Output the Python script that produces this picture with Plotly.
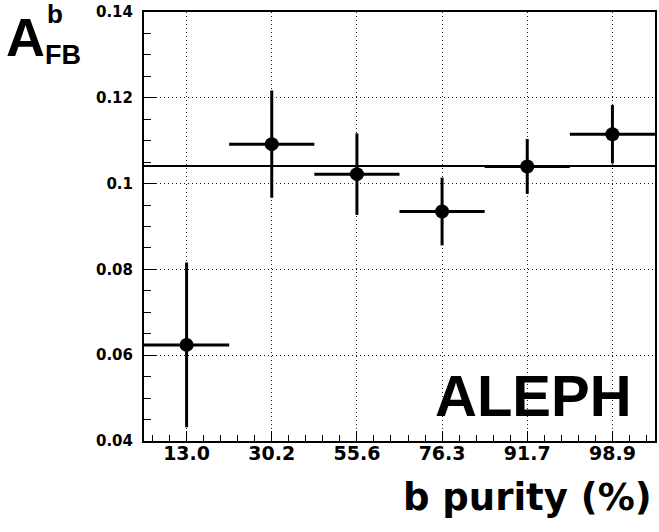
import plotly.graph_objects as go

purity_labels = ["13.0", "30.2", "55.6", "76.3", "91.7", "98.9"]
bin_centers = [0.5, 1.5, 2.5, 3.5, 4.5, 5.5]
afb_values = [0.0624, 0.1092, 0.1022, 0.0935, 0.1040, 0.1115]
afb_errors = [0.0192, 0.0125, 0.0095, 0.0079, 0.0064, 0.0068]
bin_half_width = [0.5, 0.5, 0.5, 0.5, 0.5, 0.5]
afb_average = 0.1041
y_range = [0.04, 0.14]
y_ticks = [0.04, 0.06, 0.08, 0.10, 0.12, 0.14]
y_ticktext = ["0.04", "0.06", "0.08", "0.1", "0.12", "0.14"]

W, H = 659, 532
L, R, T, B = 144, 2, 12, 91
pw, ph = W - L - R, H - T - B

def px(x):
    return (x - L) / pw

def py(y):
    return (H - B - y) / ph

fig = go.Figure()
fig.add_trace(go.Scatter(
    x=bin_centers, y=afb_values, mode="markers",
    marker=dict(size=14, color="black"),
    error_x=dict(type="data", array=bin_half_width, thickness=3, width=0, color="black"),
    error_y=dict(type="data", array=afb_errors, thickness=3, width=0, color="black"),
    showlegend=False,
))

fig.add_shape(type="line", xref="paper", x0=0, x1=1, yref="y", y0=afb_average, y1=afb_average,
              line=dict(color="black", width=1.8))

font_main = "DejaVu Sans, Liberation Sans, sans-serif"
font_ar = "Liberation Sans, Arial, Helvetica, sans-serif"

fig.update_xaxes(
    range=[0, 6], tickmode="array", tickvals=bin_centers,
    ticktext=["<b>%s</b>" % t for t in purity_labels],
    tickfont=dict(family=font_main, size=19, color="black"),
    ticks="inside", ticklen=10, tickwidth=1, tickcolor="black",
    showline=True, linecolor="black", linewidth=2, mirror=True,
    showgrid=True, gridcolor="#222", griddash="1px,3px", gridwidth=1,
    minor=dict(tickmode="linear", tick0=0.1, dtick=0.2, ticks="inside", ticklen=6,
               tickcolor="black", showgrid=False),
    zeroline=False, ticklabelstandoff=-6,
)
fig.update_yaxes(
    range=y_range, tickmode="array", tickvals=y_ticks,
    ticktext=["<b>%s</b>" % t for t in y_ticktext],
    tickfont=dict(family=font_main, size=15, color="black"),
    ticks="inside", ticklen=12, tickwidth=1, tickcolor="black",
    showline=True, linecolor="black", linewidth=2, mirror=True,
    showgrid=True, gridcolor="#222", griddash="1px,3px", gridwidth=1,
    minor=dict(tickmode="linear", tick0=0.04, dtick=0.005, ticks="inside", ticklen=7,
               tickcolor="black", showgrid=False),
    zeroline=False, ticklabelstandoff=6,
)

annotations = [
    dict(text="<b>b purity (%)</b>", x=px(656), y=py(497), xanchor="right", yanchor="middle",
         font=dict(family=font_main, size=37, color="black")),
    dict(text="<b>ALEPH</b>", x=px(535), y=py(395), xanchor="center", yanchor="middle",
         font=dict(family=font_ar, size=58, color="black")),
    dict(text="<b>A</b>", x=px(25), y=py(37), xanchor="center", yanchor="middle",
         font=dict(family=font_ar, size=54, color="black")),
    dict(text="<b>b</b>", x=px(55), y=py(14), xanchor="center", yanchor="middle",
         font=dict(family=font_ar, size=26, color="black")),
    dict(text="<b>FB</b>", x=px(63), y=py(55), xanchor="center", yanchor="middle",
         font=dict(family=font_ar, size=27, color="black")),
]
for a in annotations:
    a.update(xref="paper", yref="paper", showarrow=False)

fig.update_layout(
    width=W, height=H, margin=dict(l=L, r=R, t=T, b=B, pad=0),
    plot_bgcolor="white", paper_bgcolor="white",
    annotations=annotations,
)

fig.write_html("out.html", config={"displayModeBar": False},
               post_script="document.body.style.margin='0px';")
